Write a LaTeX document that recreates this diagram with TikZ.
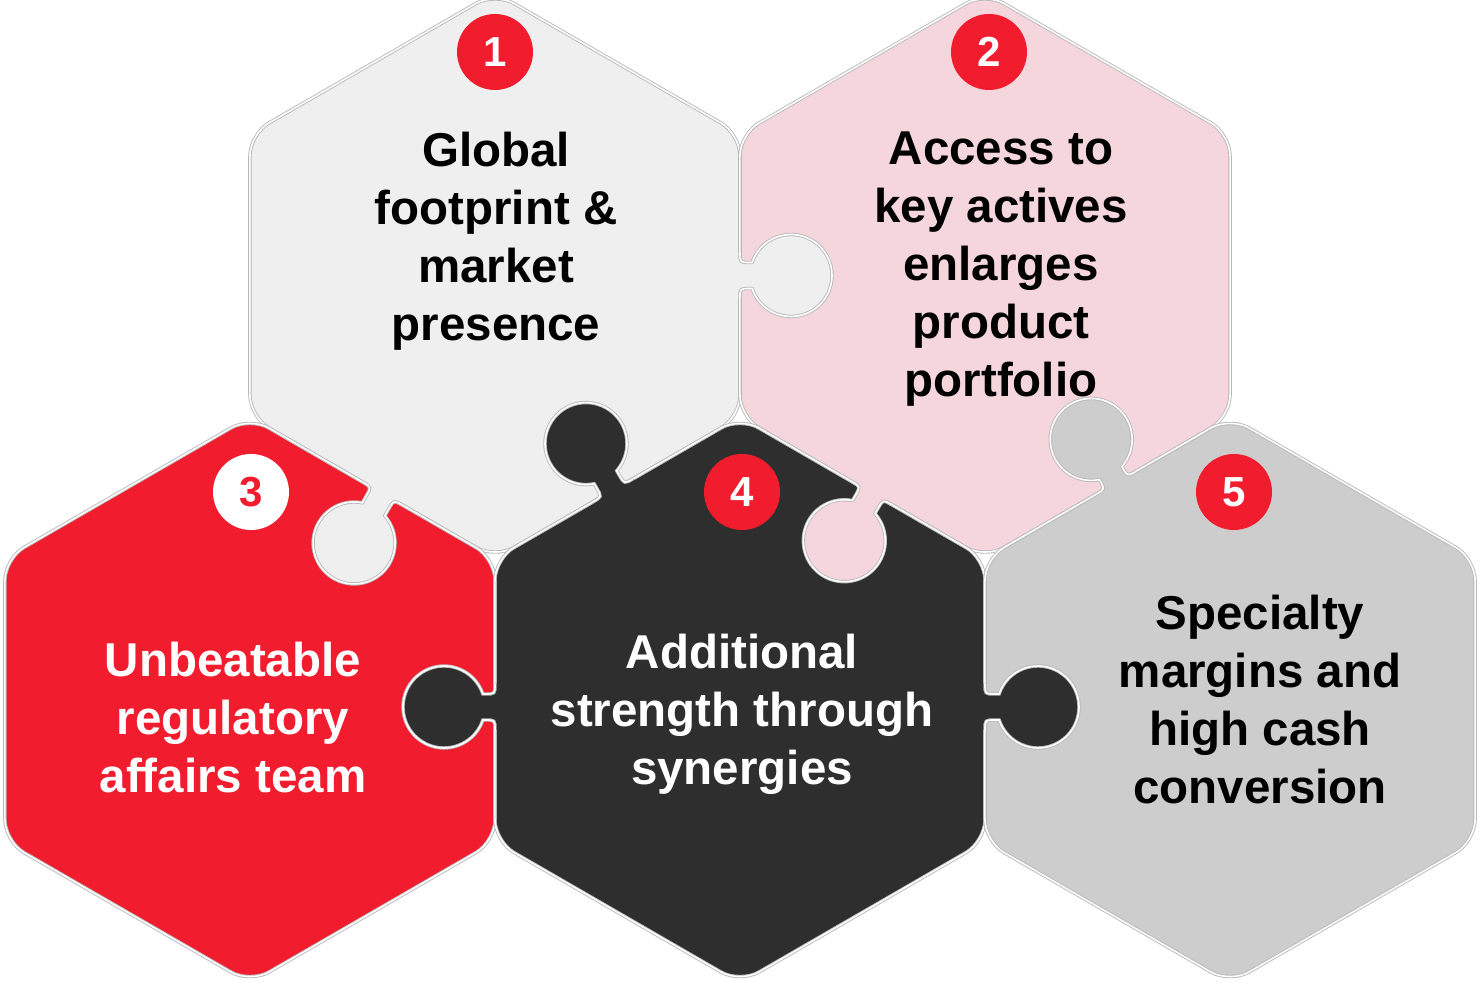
\documentclass[tikz,border=0pt]{standalone}
\usepackage{fontspec}
\setmainfont{Liberation Sans}
\definecolor{pzred}{RGB}{241,29,46}
\definecolor{pzpink}{RGB}{245,214,221}
\definecolor{pzlight}{RGB}{239,239,240}
\definecolor{pzdark}{RGB}{46,46,46}
\definecolor{pzgray}{RGB}{205,205,205}
\tikzset{
  pzedge/.style={draw=black!28, double=white, line width=0.9pt, double distance=1.6pt},
  lbl/.style={font=\fontsize{47.5}{58}\selectfont\bfseries, align=center, inner sep=0pt, anchor=north},
  badge/.style={circle, minimum size=76pt, inner sep=0pt, font=\fontsize{42}{42}\selectfont\bfseries},
}
\newcommand{\hexfill}[3]{\fill[#3, shift={(#1,#2)}, rounded corners=22pt]
  (60:245.08) -- (90:283) -- (150:283) -- (210:283) -- (270:283) -- (330:283) -- (30:283) -- cycle;}
\newcommand{\hexedge}[2]{\draw[pzedge, shift={(#1,#2)}, rounded corners=22pt]
  (60:245.08) -- (90:283) -- (150:283) -- (210:283) -- (270:283) -- (330:283) -- (30:283) -- cycle;}
% x, y, rotation, colour, distance of bulb centre
\newcommand{\knob}[5]{%
  \begin{scope}[shift={(#1,#2)}, rotate=#3]
    \fill[#4] (-23,-4) -- (-23,0) .. controls (-13,0) .. (-13,10) -- (-13,#5-38.88)
      arc[start angle=251.51, end angle=-71.51, radius=41]
      -- (13,10) .. controls (13,0) .. (23,0) -- (23,-4) -- cycle;
    \draw[pzedge] (-23,0) .. controls (-13,0) .. (-13,10) -- (-13,#5-38.88)
      arc[start angle=251.51, end angle=-71.51, radius=41]
      -- (13,10) .. controls (13,0) .. (23,0);
  \end{scope}}
\begin{document}
\begin{tikzpicture}[x=1pt, y=1pt]
\useasboundingbox (0,0) rectangle (1483,984);
% hexagon bodies
\hexfill{495}{708.5}{pzlight}
\hexfill{985}{708.5}{pzpink}
\hexfill{250}{284}{pzred}
\hexfill{740}{284}{pzdark}
\hexfill{1230}{284}{pzgray}
\hexedge{495}{708.5}
\hexedge{985}{708.5}
\hexedge{250}{284}
\hexedge{740}{284}
\hexedge{1230}{284}
% puzzle tabs
\knob{740}{708.5}{-90}{pzlight}{51}
\knob{382.6}{490.4}{150}{pzlight}{57}
\knob{613}{493.65}{30}{pzdark}{54}
\knob{871.8}{490.9}{150}{pzpink}{55}
\knob{1116.2}{501.25}{30}{pzgray}{50}
\knob{495}{277}{90}{pzdark}{51}
\knob{985}{277}{-90}{pzdark}{53}
% texts
\node[lbl, text=black] (t1) at (496,852) {Global\\footprint \&\\market\\presence};
\node[lbl, text=black] (t2) at (1001,852) {Access to\\key actives\\enlarges\\product\\portfolio};
\node[lbl, text=white] (t3) at (233,342) {Unbeatable\\regulatory\\affairs team};
\node[lbl, text=white] (t4) at (742,350) {Additional\\strength through\\synergies};
\node[lbl, text=black] (t5) at (1260,389) {Specialty\\margins and\\high cash\\conversion};
% number badges
\node[badge, fill=pzred, text=white] (b1) at (495,932) {1};
\node[badge, fill=pzred, text=white] (b2) at (989,932) {2};
\node[badge, fill=white, text=pzred] (b3) at (251,492) {3};
\node[badge, fill=pzred, text=white] (b4) at (742,492) {4};
\node[badge, fill=pzred, text=white] (b5) at (1234,492) {5};
\end{tikzpicture}
\end{document}
